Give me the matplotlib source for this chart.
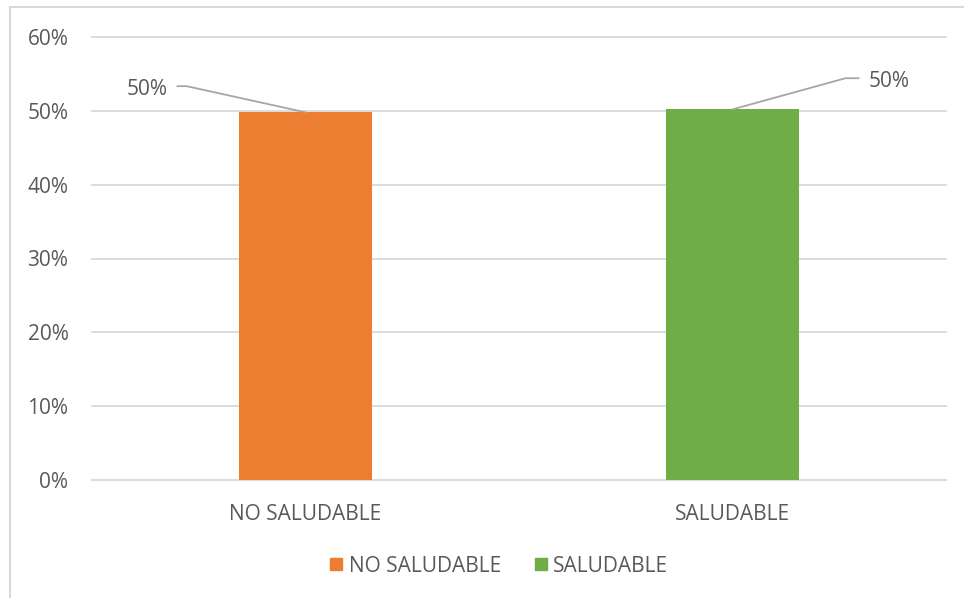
import matplotlib.pyplot as plt
from matplotlib.patches import Rectangle
from matplotlib.lines import Line2D
from matplotlib.ticker import PercentFormatter

# Datos
categorias = ["NO SALUDABLE", "SALUDABLE"]
valores = [0.498, 0.502]
etiquetas = ["50%", "50%"]
colores = ["#ED7D31", "#70AD47"]
yticks = [0, 0.1, 0.2, 0.3, 0.4, 0.5, 0.6]

plt.rcParams['font.family'] = ['Open Sans', 'DejaVu Sans']
gris_txt = "#595959"
gris_lin = "#d9d9d9"

fig = plt.figure(figsize=(9.64, 5.98), dpi=100)
ax = fig.add_axes([92/964, 1-480/598, (946-92)/964, (480-37)/598])

x = list(range(len(categorias)))
ax.bar(x, valores, width=0.31, color=colores, zorder=2)

ax.set_xlim(-0.5, len(categorias) - 0.5)
ax.set_ylim(0, 0.6)
ax.set_yticks(yticks)
ax.yaxis.set_major_formatter(PercentFormatter(1.0, decimals=0))
ax.set_xticks(x)
ax.set_xticklabels(categorias)
ax.tick_params(axis='both', length=0, labelsize=15, labelcolor=gris_txt)
ax.tick_params(axis='x', pad=17)
ax.tick_params(axis='y', pad=17)
ax.grid(axis='y', color=gris_lin, lw=1.3, zorder=0)
for gl in ax.get_ygridlines():
    gl.set_clip_on(False)
for s in ax.spines.values():
    s.set_visible(False)

# etiquetas con linea guia (desplazamientos en pixeles)
conf = [(-138, 23, 'right', -12.4, (1, 0.65)), (136, 28, 'left', 15.4, (0, 0.65))]
for xi, v, lab, (dx, dy, ha, ang, rp) in zip(x, valores, etiquetas, conf):
    ax.annotate(lab, xy=(xi, v), xytext=(dx * 0.72, dy * 0.72),
                textcoords='offset points', ha=ha, va='center',
                fontsize=15, color=gris_txt,
                arrowprops=dict(arrowstyle='-', color='#a6a6a6', lw=1.3,
                                shrinkA=5, shrinkB=0, relpos=rp,
                                connectionstyle=f"angle,angleA=0,angleB={ang},rad=0"))

# leyenda
handles = [Line2D([], [], marker='s', ls='', color=c, markersize=9) for c in colores]
fig.legend(handles, categorias, loc='center', bbox_to_anchor=(497/964, 1-566/598),
           ncol=2, frameon=False, fontsize=15, labelcolor=gris_txt,
           handletextpad=0.1, columnspacing=1.4, handlelength=1.0)

# borde del grafico
fig.patches.append(Rectangle((10/964, -0.1), 1.2, 1.1 - 7/598, transform=fig.transFigure,
                             fill=False, ec=gris_lin, lw=1.5))

fig.savefig("out.png", dpi=100)
